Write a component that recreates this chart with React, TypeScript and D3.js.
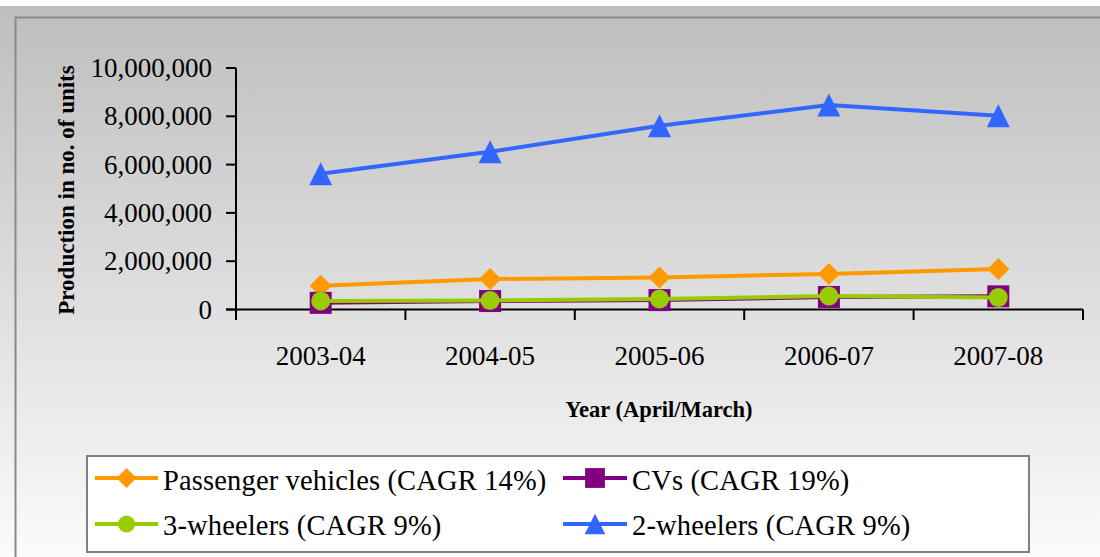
import React from "react";
import * as d3 from "d3";

const categories = ["2003-04", "2004-05", "2005-06", "2006-07", "2007-08"];
const passengerVehicles = [980000, 1260000, 1330000, 1470000, 1680000];
const cvs = [275000, 350000, 390000, 520000, 545000];
const threeWheelers = [356000, 374000, 434000, 556000, 500000];
const twoWheelers = [5622741, 6529829, 7608697, 8466666, 8026681];
const yTicks = [0, 2000000, 4000000, 6000000, 8000000, 10000000];

const seriesNames = [
  "Passenger vehicles (CAGR 14%)",
  "CVs (CAGR 19%)",
  "3-wheelers (CAGR 9%)",
  "2-wheelers (CAGR 9%)",
];
const seriesColors = ["#FF9900", "#800080", "#99CC00", "#3366FF"];
const seriesShapes = ["diamond", "square", "circle", "triangle"];
const seriesValues = [passengerVehicles, cvs, threeWheelers, twoWheelers];

const W = 1100;
const H = 557;
const plotLeft = 236;
const plotRight = 1083;
const plotTop = 68;
const plotBottom = 309.5;

function markerPath(shape: string, s: number): string {
  const h = s / 2;
  if (shape === "diamond") return `M0,${-h}L${h},0L0,${h}L${-h},0Z`;
  if (shape === "square") return `M${-h},${-h}H${h}V${h}H${-h}Z`;
  if (shape === "triangle") return `M0,${-h}L${h},${h}L${-h},${h}Z`;
  return "";
}

function Marker({ shape, color, x, y, scale = 1 }: any) {
  if (shape === "circle") {
    return <circle cx={x} cy={y} r={9.5 * scale} fill={color} />;
  }
  const size = (shape === "triangle" ? 23 : 22) * scale;
  return <path d={markerPath(shape, size)} transform={`translate(${x},${y})`} fill={color} />;
}

export default function App() {
  const x = d3.scaleBand<string>().domain(categories).range([plotLeft, plotRight]).padding(0);
  const y = d3.scaleLinear().domain([0, 10000000]).range([plotBottom, plotTop]);
  const fmt = d3.format(",");
  const line = d3
    .line<number>()
    .x((_, i) => (x(categories[i]) as number) + x.bandwidth() / 2)
    .y((v) => y(v));

  const xTickPos = categories.map((c) => x(c) as number).concat([plotRight]);

  const legendItems = [
    { idx: 0, lx: 95, rx: 158, ly: 478, tx: 163, ty: 490 },
    { idx: 1, lx: 563, rx: 627, ly: 478, tx: 632, ty: 490 },
    { idx: 2, lx: 95, rx: 158, ly: 524, tx: 163, ty: 535 },
    { idx: 3, lx: 563, rx: 627, ly: 524, tx: 632, ty: 535 },
  ];

  return (
    <svg
      width={W}
      height={H}
      style={{ position: "absolute", left: 0, top: 0 }}
      fontFamily="'Liberation Serif', serif"
    >
      <defs>
        <linearGradient id="bg" x1="0" y1="0" x2="0" y2="1">
          <stop offset="0" stopColor="#bebebe" />
          <stop offset="1" stopColor="#fbfbfb" />
        </linearGradient>
      </defs>
      <rect x={0} y={0} width={W} height={H} fill="#ffffff" />
      <rect x={0} y={6} width={W} height={H - 6} fill="url(#bg)" />
      <rect x={15.5} y={17.5} width={W + 20} height={H + 20} fill="none" stroke="#8a8a8a" strokeWidth={2} />

      {/* Y axis */}
      <line x1={plotLeft} y1={plotTop} x2={plotLeft} y2={plotBottom + 10.5} stroke="#000" strokeWidth={2} />
      {yTicks.map((t) => (
        <g key={t}>
          <line x1={plotLeft - 10} x2={plotLeft} y1={y(t)} y2={y(t)} stroke="#000" strokeWidth={2} />
          <text x={212} y={y(t)} dy="0.34em" textAnchor="end" fontSize={27} fill="#000">
            {fmt(t)}
          </text>
        </g>
      ))}

      {/* X axis */}
      <line x1={plotLeft - 10} y1={plotBottom} x2={plotRight} y2={plotBottom} stroke="#000" strokeWidth={2} />
      {xTickPos.map((p, i) => (
        <line key={i} x1={p} x2={p} y1={plotBottom} y2={plotBottom + 10.5} stroke="#000" strokeWidth={2} />
      ))}
      {categories.map((c) => (
        <text
          key={c}
          x={(x(c) as number) + x.bandwidth() / 2}
          y={365}
          textAnchor="middle"
          fontSize={27}
          fill="#000"
        >
          {c}
        </text>
      ))}

      {/* Axis titles */}
      <text x={659} y={417} textAnchor="middle" fontSize={22.5} fontWeight="bold" fill="#000">
        Year (April/March)
      </text>
      <text
        transform={`translate(74,190) rotate(-90)`}
        textAnchor="middle"
        fontSize={23}
        fontWeight="bold"
        fill="#000"
      >
        Production in no. of units
      </text>

      {/* Series */}
      {seriesValues.map((vals, si) => (
        <g key={si}>
          <path d={line(vals) || ""} fill="none" stroke={seriesColors[si]} strokeWidth={4} strokeLinejoin="round" />
          {vals.map((v, i) => (
            <Marker
              key={i}
              shape={seriesShapes[si]}
              color={seriesColors[si]}
              x={(x(categories[i]) as number) + x.bandwidth() / 2}
              y={y(v)}
            />
          ))}
        </g>
      ))}

      {/* Legend */}
      <rect x={87} y={456} width={942} height={96} fill="#ffffff" stroke="#808080" strokeWidth={2} />
      {legendItems.map((it) => (
        <g key={it.idx}>
          <line x1={it.lx} x2={it.rx} y1={it.ly} y2={it.ly} stroke={seriesColors[it.idx]} strokeWidth={4} />
          <Marker
            shape={seriesShapes[it.idx]}
            color={seriesColors[it.idx]}
            x={(it.lx + it.rx) / 2}
            y={it.ly}
            scale={0.9}
          />
          <text x={it.tx} y={it.ty} fontSize={28.5} letterSpacing={0.15} fill="#000">
            {seriesNames[it.idx]}
          </text>
        </g>
      ))}
    </svg>
  );
}
